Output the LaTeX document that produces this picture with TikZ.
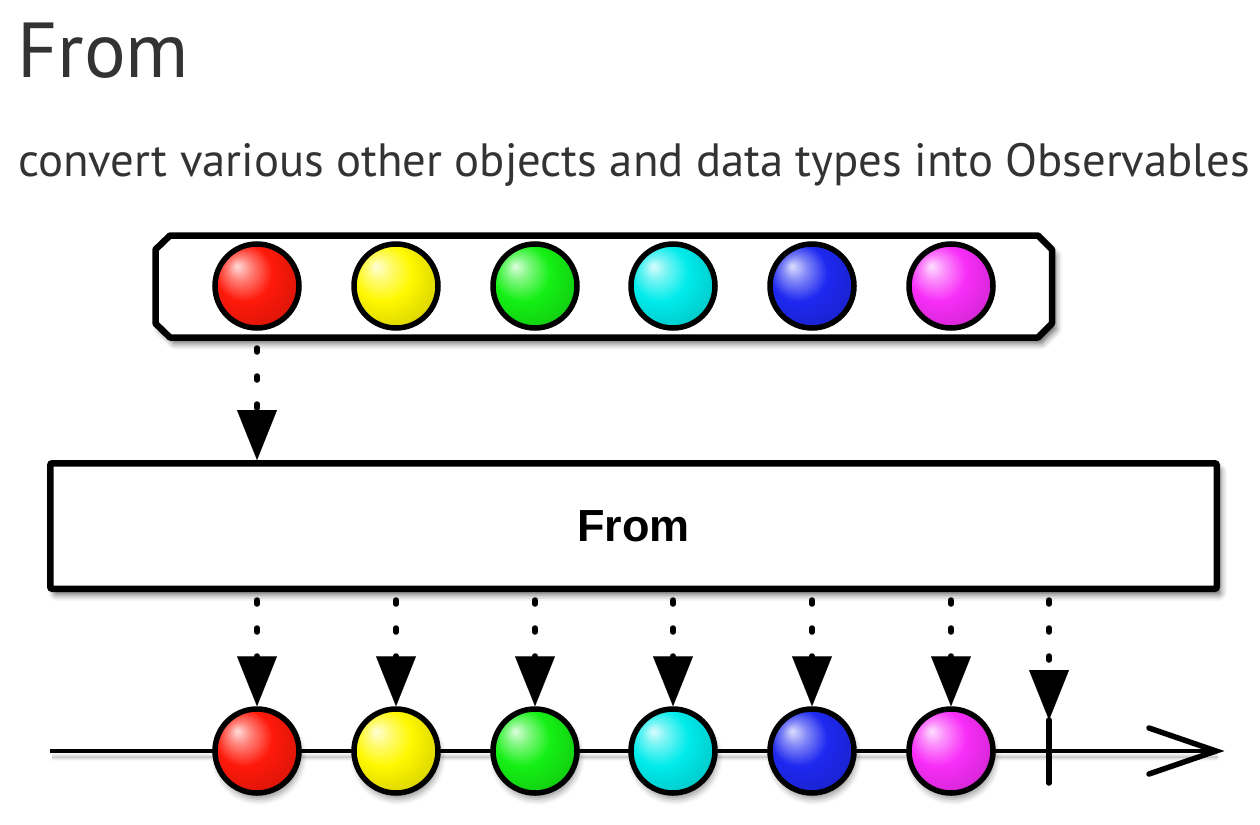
\documentclass[tikz,border=0pt]{standalone}
\usepackage{fontspec}
\setmainfont{PT Sans}
\newfontfamily\boxfont{Liberation Sans}
\usetikzlibrary{arrows.meta,shadows.blur}
\definecolor{txtgray}{RGB}{51,51,51}
\definecolor{cRed}{RGB}{255,25,10}
\definecolor{cYellow}{RGB}{255,248,0}
\definecolor{cGreen}{RGB}{20,240,20}
\definecolor{cCyan}{RGB}{0,235,235}
\definecolor{cBlue}{RGB}{30,40,240}
\definecolor{cMagenta}{RGB}{248,45,248}
\colorlet{ballc}{red}
\pgfdeclareradialshading[ballc]{glossy}{\pgfpoint{-12bp}{12bp}}{%
 color(0bp)=(ballc!15!white); color(7bp)=(ballc!55!white); color(17bp)=(ballc);
 color(29bp)=(ballc!88!black); color(37bp)=(ballc!50!black); color(50bp)=(ballc!40!black)}
\tikzset{
  ball/.style={circle, draw=black, line width=5.5pt, minimum size=84pt, inner sep=0pt,
    /utils/exec={\colorlet{ballc}{#1}}, shading=glossy},
  ballshadow/.style={blur shadow={shadow xshift=2pt, shadow yshift=-6pt,
    shadow blur radius=6pt, shadow opacity=40}},
  flowarrow/.style={line width=5.5pt, line cap=round, dash pattern=on 4pt off 24pt,
    -{Triangle[width=40pt,length=50pt,fill=black,line width=0.1pt]}},
  boxshadow/.style={blur shadow={shadow xshift=4pt, shadow yshift=-6pt,
    shadow blur radius=6pt, shadow opacity=60}},
}
\begin{document}
\begin{tikzpicture}[x=1pt,y=-1pt]
\useasboundingbox (0,0) rectangle (1260,824);
% texts
\node[anchor=base west, inner sep=0pt, text=txtgray, font=\fontsize{78}{80}\selectfont] (title) at (17,78) {From};
\node[anchor=base west, inner sep=0pt, text=txtgray, font=\fontsize{46.7}{50}\selectfont] (sub) at (18,176) {convert various other objects and data types into Observables};
% source container
\draw[line width=6.5pt, fill=white, line join=round, boxshadow]
  (170,235.5) -- (1038,235.5) -- (1052,249.5) -- (1052,323.5) -- (1038,337.5) -- (170,337.5) -- (155.5,323.5) -- (155.5,249.5) -- cycle;
\coordinate (src) at (604,338);
\node[ball=cRed] (t1) at (257,286) {};
\node[ball=cYellow] (t2) at (396,286) {};
\node[ball=cGreen] (t3) at (535,286) {};
\node[ball=cCyan] (t4) at (673,286) {};
\node[ball=cBlue] (t5) at (812,286) {};
\node[ball=cMagenta] (t6) at (951,286) {};
% operator box
\node[draw, line width=6.5pt, rounded corners=2pt, fill=white, boxshadow,
  minimum width=1166.5pt, minimum height=125.5pt, inner sep=0pt,
  font=\boxfont\bfseries\fontsize{45}{48}\selectfont] (op) at (633.5,526) {From};
% top arrow
\draw[flowarrow] ([yshift=-10pt]src -| t1) -- (op.north -| t1);
% timeline
\coordinate (tlstart) at (50,751);
\coordinate (tlend) at (1216,751);
\draw[line width=4.5pt, blur shadow={shadow xshift=2pt, shadow yshift=-6pt, shadow blur radius=4pt, shadow opacity=40}] (tlstart) -- (tlend);
\draw[line width=5.5pt, line cap=round] (1149,728) -- (tlend) -- (1149,774);
% completion tick
\coordinate (tk) at (1049,720);
\coordinate (tkb) at (1049,783);
\draw[line width=5.5pt, line cap=round] (tk) -- (tkb);
% bottom balls
\node[ball=cRed, ballshadow] (b1) at (257,751) {};
\node[ball=cYellow, ballshadow] (b2) at (396,751) {};
\node[ball=cGreen, ballshadow] (b3) at (535,751) {};
\node[ball=cCyan, ballshadow] (b4) at (673,751) {};
\node[ball=cBlue, ballshadow] (b5) at (812,751) {};
\node[ball=cMagenta, ballshadow] (b6) at (951,751) {};
% bottom arrows
\foreach \b in {b1,b2,b3,b4,b5,b6}
  \draw[flowarrow] ([yshift=-8pt]op.south -| \b) -- (\b.north);
\draw[flowarrow] ([yshift=-8pt]op.south -| tk) -- (tk);
\end{tikzpicture}
\end{document}
